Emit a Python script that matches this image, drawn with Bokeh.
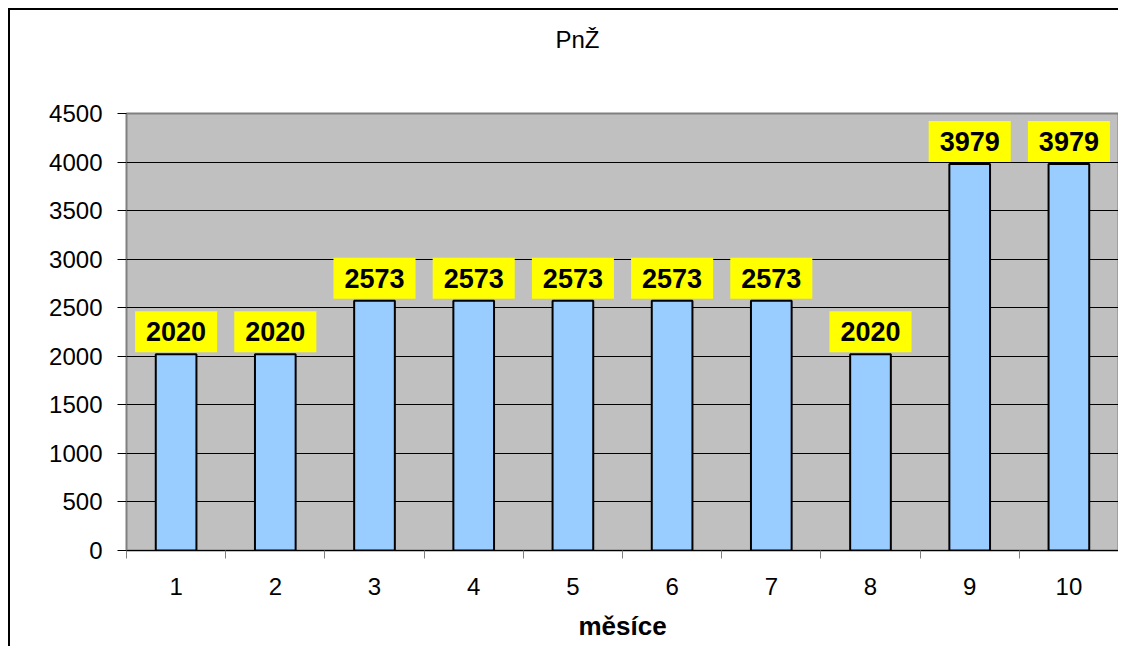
from bokeh.plotting import figure
from bokeh.models import FixedTicker, Range1d, ColumnDataSource, Title
from bokeh.core.properties import value
from bokeh.embed import file_html
from bokeh.resources import INLINE

months = [1, 2, 3, 4, 5, 6, 7, 8, 9, 10]
values = [2020, 2020, 2573, 2573, 2573, 2573, 2573, 2020, 3979, 3979]
labels = [str(v) for v in values]
y_ticks = [0, 500, 1000, 1500, 2000, 2500, 3000, 3500, 4000, 4500]
title_text = "PnŽ"
x_title = "měsíce"

FONT = "Liberation Sans"

p = figure(width=1110, height=638, output_backend="svg", toolbar_location=None,
           x_range=Range1d(0.5, 10.5), y_range=Range1d(0, 4500),
           min_border_left=116, min_border_top=103, min_border_right=2, min_border_bottom=98,
           styles={"margin-left": "8px", "margin-top": "8px",
                   "border-left": "2px solid black", "border-top": "2px solid black"})
p.background_fill_color = "#C0C0C0"
p.border_fill_color = "white"
p.outline_line_color = "#808080"
p.outline_line_width = 2

# spacer between the frame and the title
p.add_layout(Title(text=" ", text_font_size="1px", standoff=58), "above")
p.add_layout(Title(text=title_text, align="left", offset=429, standoff=0,
                   text_font=FONT, text_font_style="normal", text_font_size="24px",
                   text_color="black"), "above")

src = ColumnDataSource(dict(x=months, top=values, lab=labels))
p.vbar(x="x", top="top", width=0.41, source=src, fill_color="#99CCFF",
       line_color="black", line_width=2)
p.text(x="x", y="top", text="lab", source=src, text_font=value(FONT),
       text_font_style="bold", text_font_size="27px", text_color="black",
       text_align="center", text_baseline="bottom", y_offset=-2,
       background_fill_color="yellow", padding=11)

# axes
p.xaxis.ticker = FixedTicker(ticks=months, minor_ticks=[m - 0.5 for m in months] + [10.5])
p.xaxis.major_label_overrides = {m: str(m) for m in months}
p.xaxis.major_tick_out = 0
p.xaxis.major_tick_in = 0
p.xaxis.minor_tick_out = 8
p.xaxis.minor_tick_in = 0
p.xaxis.minor_tick_line_color = "#808080"
p.xaxis.axis_line_color = "black"
p.xaxis.major_label_text_font = FONT
p.xaxis.major_label_text_font_size = "24px"
p.xaxis.major_label_text_color = "black"
p.xaxis.major_label_standoff = 19
p.xaxis.axis_label = x_title
p.xaxis.axis_label_text_font = FONT
p.xaxis.axis_label_text_font_style = "bold"
p.xaxis.axis_label_text_font_size = "26px"
p.xaxis.axis_label_text_color = "black"
p.xaxis.axis_label_standoff = 13

p.yaxis.ticker = FixedTicker(ticks=y_ticks)
p.yaxis.major_tick_out = 9
p.yaxis.major_tick_in = 0
p.yaxis.minor_tick_out = 0
p.yaxis.minor_tick_in = 0
p.yaxis.axis_line_color = "#808080"
p.yaxis.major_tick_line_color = "black"
p.yaxis.major_label_text_font = FONT
p.yaxis.major_label_text_font_size = "24px"
p.yaxis.major_label_text_color = "black"
p.yaxis.major_label_standoff = 15

p.xgrid.grid_line_color = None
p.ygrid.grid_line_color = "black"
p.ygrid.grid_line_width = 1
p.ygrid.ticker = FixedTicker(ticks=y_ticks)

open("out.html", "w").write(file_html(p, INLINE))
